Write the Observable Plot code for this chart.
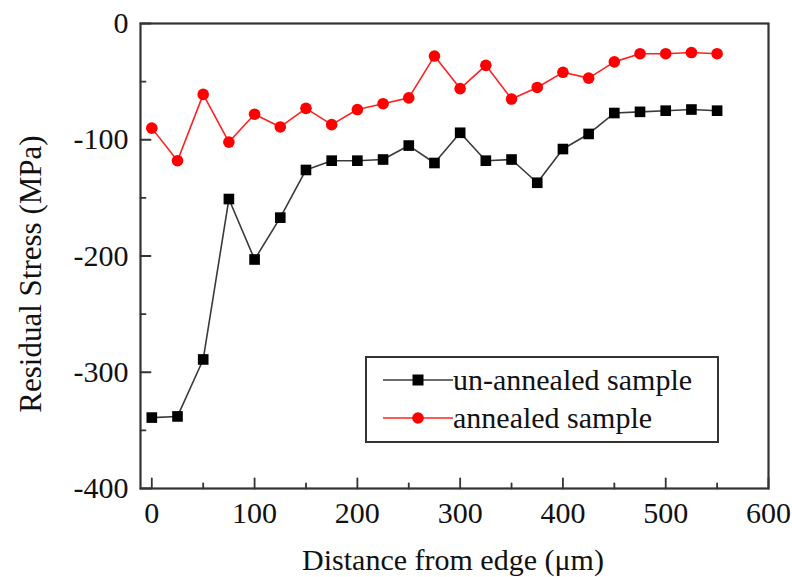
<!DOCTYPE html>
<html>
<head>
<meta charset="utf-8">
<script src="https://cdn.jsdelivr.net/npm/d3@7"></script>
<script src="https://cdn.jsdelivr.net/npm/@observablehq/plot@0.6"></script>
<style>
  html, body { margin: 0; padding: 0; background: #fff; }
  #wrap { position: relative; width: 792px; height: 577px; font-family: "Liberation Serif", "Times New Roman", serif; color: #111; overflow: hidden; }
  #wrap svg { position: absolute; left: 0; top: 0; }
  #wrap svg text { font-family: "Liberation Serif", "Times New Roman", serif; }
  .lbl { position: absolute; font-size: 30px; white-space: nowrap; line-height: 1.1; }
</style>
</head>
<body>
<div id="wrap"></div>
<script>
// ---- data ----
const distance = [0, 25, 50, 75, 100, 125, 150, 175, 200, 225, 250, 275, 300, 325, 350, 375, 400, 425, 450, 475, 500, 525, 550];
const unannealed = [-339, -338, -289, -151, -203, -167, -126, -118, -118, -117, -105, -120, -94, -118, -117, -137, -108, -95, -77, -76, -75, -74, -75];
const annealed = [-90, -118, -61, -102, -78, -89, -73, -87, -74, -69, -64, -28, -56, -36, -65, -55, -42, -47, -33, -26, -26, -25, -26];
const seriesNames = ["un-annealed sample", "annealed sample"];
const xTicks = [0, 100, 200, 300, 400, 500, 600];
const xMinorTicks = [50, 150, 250, 350, 450, 550];
const yTicks = [-400, -300, -200, -100, 0];
const yMinorTicks = [-350, -250, -150, -50];
const xLabel = "Distance from edge (\u03bcm)";
const yLabel = "Residual Stress (MPa)";

const W = 792, H = 577;
const mL = 140, mR = 24, mT = 23, mB = 89;

const rowsU = distance.map((d, i) => ({x: d, y: unannealed[i]}));
const rowsA = distance.map((d, i) => ({x: d, y: annealed[i]}));

const frameColor = "#333";
const lineShape = {draw(context, l) { context.moveTo(0, 0); context.lineTo(0, -l); }};
const serif = "Liberation Serif, Times New Roman, serif";

const plot = Plot.plot({
  width: W, height: H,
  marginLeft: mL, marginRight: mR, marginTop: mT, marginBottom: mB,
  style: {fontFamily: serif, fontSize: "30px", color: "#111", background: "transparent"},
  x: {domain: [-11, 600]},
  y: {domain: [-400, 0]},
  marks: [
    // inward major/minor ticks
    Plot.vector(xTicks, {x: d => d, frameAnchor: "bottom", length: 10, rotate: 0, anchor: "start", shape: lineShape, stroke: frameColor, strokeWidth: 1.8}),
    Plot.vector(xMinorTicks, {x: d => d, frameAnchor: "bottom", length: 5, rotate: 0, anchor: "start", shape: lineShape, stroke: frameColor, strokeWidth: 1.8}),
    Plot.vector(yTicks, {y: d => d, frameAnchor: "left", length: 10, rotate: 90, anchor: "start", shape: lineShape, stroke: frameColor, strokeWidth: 1.8}),
    Plot.vector(yMinorTicks, {y: d => d, frameAnchor: "left", length: 5, rotate: 90, anchor: "start", shape: lineShape, stroke: frameColor, strokeWidth: 1.8}),
    Plot.axisX({ticks: xTicks, tickSize: 0, tickPadding: 13, tickFormat: d => String(d), label: null, fontSize: 30, fontFamily: serif, fill: "#111"}),
    Plot.axisY({ticks: yTicks, tickSize: 0, tickPadding: 12, tickFormat: d => String(d), label: null, fontSize: 30, fontFamily: serif, fill: "#111"}),
    Plot.frame({stroke: frameColor, strokeWidth: 2.2}),
    Plot.line(rowsU, {x: "x", y: "y", stroke: "#3a3a3a", strokeWidth: 1.6}),
    Plot.dot(rowsU, {x: "x", y: "y", symbol: "square", r: 6, fill: "#000", stroke: "none"}),
    Plot.line(rowsA, {x: "x", y: "y", stroke: "#ff2020", strokeWidth: 1.6}),
    Plot.dot(rowsA, {x: "x", y: "y", symbol: "circle", r: 5.8, fill: "#ff0000", stroke: "none"})
  ]
});

const wrap = document.getElementById("wrap");
wrap.appendChild(plot);

// axis labels
const xl = document.createElement("div");
xl.className = "lbl";
xl.textContent = xLabel;
xl.style.left = "453px";
xl.style.top = "543px";
xl.style.transform = "translateX(-50%)";
wrap.appendChild(xl);

const yl = document.createElement("div");
yl.className = "lbl";
yl.textContent = yLabel;
yl.style.fontSize = "31px";
yl.style.left = "31px";
yl.style.top = "274px";
yl.style.transform = "translate(-50%, -50%) rotate(-90deg)";
wrap.appendChild(yl);

// legend (drawn as svg)
const svgNS = "http://www.w3.org/2000/svg";
const lg = document.createElementNS(svgNS, "svg");
lg.setAttribute("width", "354"); lg.setAttribute("height", "87");
lg.style.left = "365px"; lg.style.top = "356px";
wrap.appendChild(lg);
const box = document.createElementNS(svgNS, "rect");
box.setAttribute("x", "1"); box.setAttribute("y", "1"); box.setAttribute("width", "352"); box.setAttribute("height", "85");
box.setAttribute("fill", "#fff"); box.setAttribute("stroke", frameColor); box.setAttribute("stroke-width", "2");
lg.appendChild(box);
const legendItems = [
  {name: seriesNames[0], color: "#3a3a3a", fill: "#000", shape: "square"},
  {name: seriesNames[1], color: "#ff2020", fill: "#ff0000", shape: "circle"}
];
legendItems.forEach((it, i) => {
  const cy = 24 + i * 38;
  const ln = document.createElementNS(svgNS, "line");
  ln.setAttribute("x1", "18"); ln.setAttribute("x2", "88"); ln.setAttribute("y1", cy); ln.setAttribute("y2", cy);
  ln.setAttribute("stroke", it.color); ln.setAttribute("stroke-width", "1.6");
  lg.appendChild(ln);
  let m;
  if (it.shape === "square") {
    m = document.createElementNS(svgNS, "rect");
    m.setAttribute("x", 53 - 5.5); m.setAttribute("y", cy - 5.5); m.setAttribute("width", "11"); m.setAttribute("height", "11");
  } else {
    m = document.createElementNS(svgNS, "circle");
    m.setAttribute("cx", "53"); m.setAttribute("cy", cy); m.setAttribute("r", "5.8");
  }
  m.setAttribute("fill", it.fill);
  lg.appendChild(m);
  const t = document.createElementNS(svgNS, "text");
  t.setAttribute("x", "88"); t.setAttribute("y", cy);
  t.setAttribute("dy", "0.32em");
  t.setAttribute("font-size", "30");
  t.setAttribute("fill", "#111");
  t.textContent = it.name;
  lg.appendChild(t);
});
</script>
</body>
</html>
